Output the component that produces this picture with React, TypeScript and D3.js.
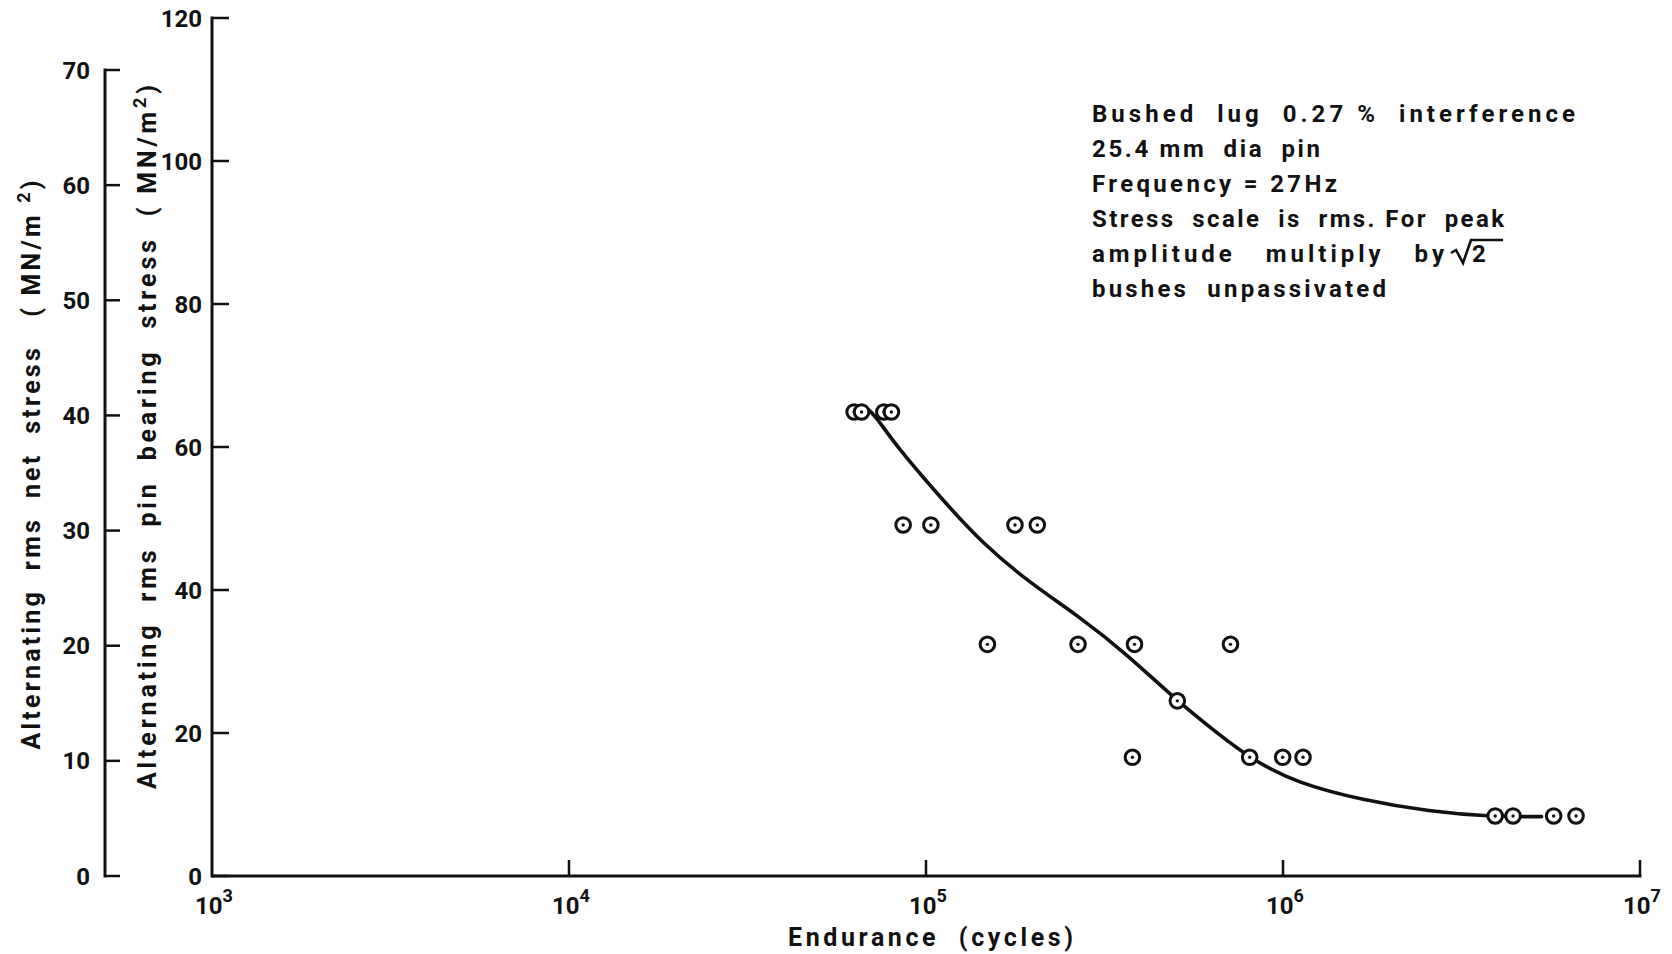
import React from "react";
import * as d3 from "d3";

// ---- data ----
const cycles = [
  62900, 66000, 76200, 80000,
  86300, 103200, 177500, 205000,
  148600, 266600, 383800, 712600,
  505800,
  378600, 806700, 998000, 1138000,
  3930000, 4410000, 5730000, 6620000,
];
const bearingStress = [
  64.9, 64.9, 64.9, 64.9,
  49.1, 49.1, 49.1, 49.1,
  32.4, 32.4, 32.4, 32.4,
  24.5,
  16.6, 16.6, 16.6, 16.6,
  8.4, 8.4, 8.4, 8.4,
];
const curveCycles = [67500, 72000, 80800, 109400, 144500, 195400, 270000, 365600, 492000, 653000, 824000, 1094000, 1675000, 2580000, 3800000, 5140000, 5300000];
const curveStress = [65.6, 64.5, 60.7, 53.0, 46.4, 41.0, 36.2, 31.0, 25.0, 20.0, 16.2, 13.0, 10.6, 9.0, 8.3, 8.3, 8.3];

const netTicks = [0, 10, 20, 30, 40, 50, 60, 70];
const bearingTicks = [0, 20, 40, 60, 80, 100, 120];
const cycleTicks = [1e3, 1e4, 1e5, 1e6, 1e7];

const annotLines = [
  "Bushed  lug  0.27 %  interference",
  "25.4 mm  dia  pin",
  "Frequency = 27Hz",
  "Stress  scale  is  rms. For  peak",
  "amplitude   multiply   by",
  "bushes  unpassivated",
];
const annotWidths = [483, 228, 245, 412, 352, 294];

const FONT = "Roboto, 'DejaVu Sans', sans-serif";
const INK = "#111";

export default function App() {
  const x = d3.scaleLog().domain([1e3, 1e7]).range([212, 1640]);
  const yR = d3.scaleLinear().domain([0, 120]).range([876, 18]);
  const yL = d3.scaleLinear().domain([0, 70]).range([876, 70]);

  const pts = cycles.map((c, i) => [c, bearingStress[i]] as [number, number]);
  const cpts = curveCycles.map((c, i) => [c, curveStress[i]] as [number, number]);
  const line = d3
    .line<[number, number]>()
    .x((d) => x(d[0]))
    .y((d) => yR(d[1]))
    .curve(d3.curveBasis);

  const leftX = 105;
  const rightX = 212;
  const textStyle: React.CSSProperties = { whiteSpace: "pre" };
  const b5 = 122 + 4 * 35;

  return (
    <svg
      width={1672}
      height={954}
      style={{ position: "absolute", left: 0, top: 0, background: "#fff", display: "block" }}
      fontFamily={FONT}
      fontWeight={700}
      fill={INK}
    >
      <rect x={0} y={0} width={1672} height={954} fill="#fff" />

      {/* left axis: net stress */}
      <line x1={leftX} x2={leftX} y1={yL(70) - 1.5} y2={yL(0) + 1.5} stroke={INK} strokeWidth={3} />
      {netTicks.map((t) => (
        <g key={"l" + t}>
          <line x1={leftX} x2={leftX + 15} y1={yL(t)} y2={yL(t)} stroke={INK} strokeWidth={2.5} />
          <text x={90} y={yL(t) + 8.5} fontSize={24} textAnchor="end">
            {t}
          </text>
        </g>
      ))}

      {/* right (inner) axis: pin bearing stress */}
      <line x1={rightX} x2={rightX} y1={yR(120) - 1.5} y2={yR(0) + 1.5} stroke={INK} strokeWidth={3} />
      {bearingTicks.map((t) => (
        <g key={"r" + t}>
          <line x1={rightX} x2={rightX + 17} y1={yR(t)} y2={yR(t)} stroke={INK} strokeWidth={2.5} />
          <text x={202} y={yR(t) + 8.5} fontSize={24} textAnchor="end">
            {t}
          </text>
        </g>
      ))}

      {/* x axis */}
      <line x1={x(1e3)} x2={x(1e7) + 1.5} y1={876} y2={876} stroke={INK} strokeWidth={3} />
      {cycleTicks.map((t) => (
        <g key={"x" + t}>
          {t > 1e3 && <line x1={x(t)} x2={x(t)} y1={876} y2={860} stroke={INK} strokeWidth={2.5} />}
          <text x={x(t) + 2} y={914} fontSize={24} textAnchor="middle">
            10
            <tspan dy={-12} fontSize={18}>
              {Math.round(Math.log10(t))}
            </tspan>
          </text>
        </g>
      ))}

      {/* axis titles */}
      <text
        transform="translate(40,465) rotate(-90)"
        fontSize={25}
        textAnchor="middle"
        textLength={569}
        lengthAdjust="spacing"
        style={textStyle}
      >
        {"Alternating  rms  net  stress   ( MN/m "}
        <tspan dy={-10} fontSize={18}>2</tspan>
        <tspan dy={10}>)</tspan>
      </text>
      <text
        transform="translate(156,437) rotate(-90)"
        fontSize={25}
        textAnchor="middle"
        textLength={704}
        lengthAdjust="spacing"
        style={textStyle}
      >
        {"Alternating  rms  pin  bearing  stress  ( MN/m"}
        <tspan dy={-10} fontSize={18}>2</tspan>
        <tspan dy={10}>)</tspan>
      </text>
      <text x={788} y={946} fontSize={25} textLength={285} lengthAdjust="spacing" style={textStyle}>
        Endurance  (cycles)
      </text>

      {/* annotation */}
      {annotLines.map((s, i) => (
        <text
          key={"a" + i}
          x={1092}
          y={122 + i * 35}
          fontSize={24}
          textLength={annotWidths[i]}
          lengthAdjust="spacing"
          style={textStyle}
        >
          {s}
        </text>
      ))}
      <path
        d={`M1451,${b5 - 9} L1456,${b5 - 12} L1463,${b5 + 1} L1471,${b5 - 22} L1503,${b5 - 22}`}
        fill="none"
        stroke={INK}
        strokeWidth={2.6}
        strokeLinejoin="miter"
      />
      <text x={1472} y={b5} fontSize={24}>
        2
      </text>

      {/* fitted curve */}
      <path d={line(cpts) || ""} fill="none" stroke={INK} strokeWidth={3.6} strokeLinecap="round" />

      {/* data points */}
      {pts.map((d, i) => (
        <g key={"p" + i}>
          <circle cx={x(d[0])} cy={yR(d[1])} r={7.3} fill="#fff" stroke={INK} strokeWidth={3} />
          <circle cx={x(d[0])} cy={yR(d[1])} r={1.7} fill={INK} />
        </g>
      ))}
    </svg>
  );
}
